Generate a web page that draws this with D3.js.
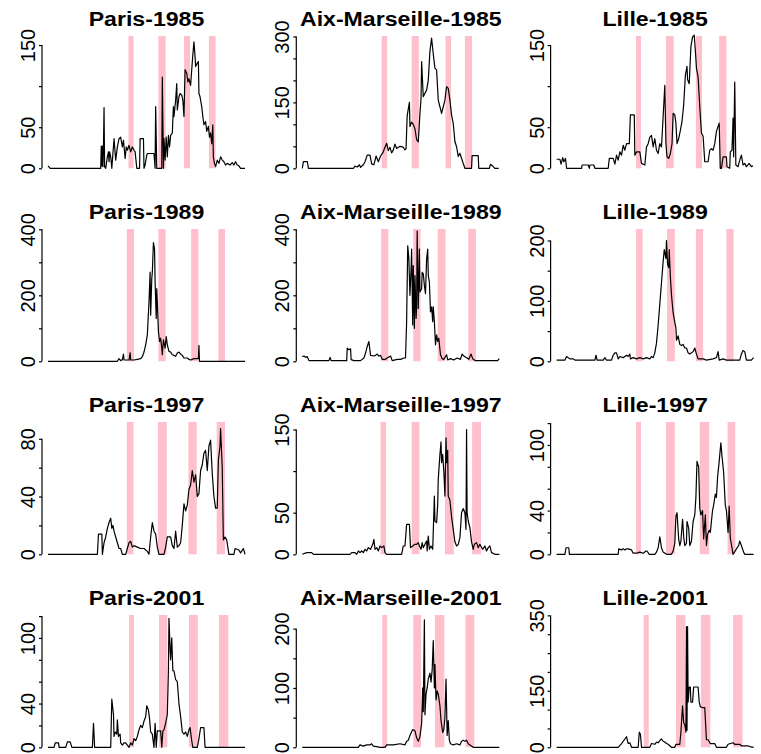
<!DOCTYPE html>
<html>
<head>
<meta charset="utf-8">
<script src="https://cdn.jsdelivr.net/npm/d3@7"></script>
<style>
  body { margin: 0; background: #fff; }
  svg { display: block; font-family: "Liberation Sans", Arial, sans-serif; }
</style>
</head>
<body>
<svg id="chart" width="761" height="754"></svg>
<script>
// ---- data ----
const cities = ["Paris", "Aix-Marseille", "Lille"];
const years = ["1985", "1989", "1997", "2001"];
const dayDomain = [0, 355];

// [day of season, weekly incidence]
const paris1985 = [[0,3],[4,0],[95,0],[96,27],[97,3],[98,27],[99,2],[100,27],[101,74],[102,2],[104,0],[107,14],[109,20],[110,8],[111,20],[113,14],[115,0],[119,36],[122,10],[125,26],[128,36],[131,38],[134,26],[136,34],[139,12],[141,26],[143,22],[146,28],[149,20],[152,26],[155,22],[157,20],[160,0],[165,0],[166,36],[172,36],[173,0],[175,4],[178,16],[179,18],[191,18],[193,0],[194,75],[196,0],[205,0],[206,111],[208,0],[209,36],[211,10],[213,38],[215,14],[217,40],[219,26],[221,40],[224,43],[226,75],[227,63],[230,83],[232,103],[233,71],[236,87],[238,91],[241,89],[243,83],[245,63],[247,120],[250,116],[252,105],[254,109],[257,101],[259,120],[261,138],[263,154],[265,136],[266,124],[269,128],[271,130],[272,91],[274,87],[277,75],[279,63],[281,53],[284,57],[286,45],[289,51],[291,38],[293,43],[295,30],[297,53],[298,14],[300,6],[302,2],[305,10],[308,6],[311,14],[314,10],[317,8],[320,4],[323,6],[328,4],[332,7],[335,4],[338,8],[341,4],[344,3],[347,0],[355,0]];
const aix1985 = [[0,0],[2,15],[9,15],[11,0],[92,0],[95,5],[99,3],[103,8],[105,2],[110,8],[113,15],[117,30],[122,30],[125,10],[129,8],[133,28],[137,15],[141,28],[145,35],[149,48],[152,57],[155,40],[158,48],[161,35],[164,42],[167,55],[170,45],[176,50],[182,48],[185,42],[187,45],[189,120],[193,150],[194,95],[197,105],[200,100],[203,90],[206,65],[209,60],[212,125],[214,160],[215,243],[218,163],[224,178],[227,200],[230,266],[233,296],[236,260],[239,228],[242,224],[245,155],[248,140],[251,125],[254,140],[257,155],[260,186],[263,182],[266,155],[269,121],[272,102],[275,61],[278,49],[281,27],[284,34],[287,23],[290,11],[293,0],[305,0],[306,29],[317,29],[318,0],[337,0],[339,9],[344,4],[347,0],[354,0]];
const lille1985 = [[0,11],[6,11],[8,5],[11,13],[13,8],[16,12],[18,0],[45,0],[46,4],[57,4],[59,0],[60,4],[67,4],[69,0],[93,0],[95,12],[102,12],[105,5],[108,16],[111,10],[114,20],[117,16],[120,28],[123,22],[126,30],[131,30],[133,65],[140,65],[141,16],[144,20],[150,20],[153,6],[159,4],[162,26],[165,30],[168,38],[171,40],[174,26],[177,36],[180,22],[183,18],[186,30],[189,26],[192,63],[195,101],[197,30],[199,14],[202,12],[205,18],[208,30],[210,67],[213,65],[215,55],[217,30],[220,36],[223,46],[226,57],[229,77],[232,113],[235,124],[236,108],[239,103],[242,148],[245,160],[248,162],[250,144],[252,122],[255,111],[258,75],[261,43],[264,39],[267,8],[273,8],[276,22],[279,24],[282,22],[285,30],[288,45],[293,55],[295,0],[297,0],[300,14],[306,14],[307,2],[312,0],[313,20],[316,22],[318,61],[319,14],[321,105],[323,4],[327,2],[330,10],[333,16],[336,4],[339,6],[342,2],[347,6],[351,2],[354,3]];

const paris1989 = [[0,0],[125,0],[128,8],[131,2],[134,5],[136,22],[137,4],[146,4],[148,26],[149,4],[155,4],[161,6],[167,8],[170,14],[173,28],[176,50],[179,80],[182,180],[184,270],[185,140],[187,250],[188,270],[190,360],[192,340],[193,240],[195,130],[196,220],[197,180],[199,90],[201,60],[203,70],[205,40],[206,20],[208,65],[211,40],[213,75],[215,50],[218,30],[221,28],[224,20],[227,18],[230,15],[233,25],[236,28],[239,22],[242,18],[245,10],[251,10],[254,6],[257,4],[263,8],[271,8],[272,48],[273,0],[355,0]];
const aix1989 = [[0,14],[3,16],[6,12],[9,14],[12,2],[48,2],[50,12],[52,2],[80,2],[81,40],[84,35],[87,38],[88,5],[93,2],[105,2],[111,10],[114,25],[117,45],[120,60],[123,18],[129,16],[132,18],[135,22],[138,16],[141,18],[144,6],[150,6],[153,10],[159,16],[162,2],[171,6],[177,6],[183,10],[186,10],[188,120],[190,350],[192,310],[194,200],[196,280],[197,340],[199,110],[200,290],[202,100],[203,260],[205,130],[206,160],[207,395],[209,160],[211,340],[212,210],[215,220],[216,270],[218,265],[220,230],[222,205],[224,310],[226,340],[227,260],[229,240],[231,150],[233,165],[235,120],[236,165],[238,120],[240,50],[242,80],[244,60],[246,70],[249,20],[252,8],[255,6],[260,20],[262,4],[267,8],[273,4],[279,10],[285,6],[288,22],[291,16],[297,10],[300,6],[304,22],[307,8],[312,2],[352,2],[355,8]];
const lille1989 = [[0,2],[15,2],[18,8],[21,6],[24,4],[30,4],[33,2],[69,2],[71,10],[73,2],[84,2],[87,6],[90,2],[99,2],[102,10],[105,14],[108,14],[111,4],[114,8],[120,6],[126,10],[129,8],[132,12],[133,4],[138,6],[144,4],[150,6],[156,4],[162,6],[168,4],[171,8],[174,6],[177,14],[180,30],[183,60],[186,95],[189,130],[192,165],[194,185],[197,170],[198,200],[200,160],[202,155],[203,185],[205,140],[207,110],[210,80],[213,65],[215,55],[216,35],[219,42],[222,28],[225,26],[228,28],[231,22],[234,22],[237,14],[240,12],[246,16],[249,22],[252,12],[255,4],[264,4],[270,2],[282,4],[288,6],[291,16],[293,2],[300,4],[306,2],[330,2],[333,12],[336,18],[339,16],[342,2],[351,2],[355,6]];

const paris1997 = [[0,0],[89,0],[91,14],[97,14],[98,0],[101,8],[104,12],[107,18],[110,22],[113,25],[115,18],[117,20],[119,16],[122,12],[125,8],[128,4],[131,4],[134,0],[140,0],[143,4],[146,8],[149,9],[152,5],[155,6],[161,5],[167,4],[173,4],[179,2],[182,0],[185,12],[188,22],[191,16],[194,14],[197,5],[200,0],[209,0],[212,5],[215,12],[221,12],[224,6],[227,4],[230,16],[233,5],[236,6],[239,8],[242,20],[245,35],[248,30],[251,34],[254,45],[257,48],[260,58],[263,50],[266,55],[269,40],[272,42],[275,58],[278,62],[281,70],[284,72],[287,58],[290,75],[293,79],[296,56],[299,40],[302,32],[305,32],[307,65],[310,75],[311,87],[314,60],[316,10],[319,12],[322,10],[326,0],[335,0],[337,4],[344,3],[347,1],[352,4],[355,0]];
const aix1997 = [[0,0],[8,2],[17,2],[20,0],[86,0],[89,2],[95,2],[98,0],[101,4],[104,2],[107,4],[110,2],[113,6],[116,4],[119,8],[123,6],[127,12],[129,18],[131,6],[134,8],[137,4],[140,10],[143,8],[147,10],[149,2],[152,0],[179,0],[182,10],[185,10],[188,36],[193,36],[195,8],[199,10],[203,12],[206,12],[209,14],[211,10],[214,6],[216,14],[218,8],[221,12],[224,16],[225,4],[227,22],[229,6],[232,10],[235,6],[238,70],[239,40],[242,38],[244,60],[245,90],[248,120],[250,135],[251,110],[253,120],[255,100],[257,70],[259,140],[260,110],[262,125],[263,70],[266,65],[269,45],[272,30],[275,15],[278,10],[281,12],[284,20],[287,50],[290,55],[293,50],[295,30],[296,150],[297,50],[299,40],[302,32],[305,15],[308,6],[310,12],[314,14],[317,8],[320,12],[325,6],[329,10],[332,4],[335,8],[338,10],[341,2],[347,0],[355,0]];
const lille1997 = [[0,0],[15,0],[17,6],[22,6],[23,0],[111,0],[112,5],[117,4],[120,5],[123,4],[126,5],[129,5],[135,4],[138,1],[144,1],[150,2],[156,1],[161,3],[163,3],[167,0],[177,0],[180,2],[183,6],[186,16],[189,6],[192,2],[198,0],[207,0],[210,3],[213,10],[215,35],[217,38],[220,14],[222,8],[224,12],[227,32],[229,16],[231,8],[234,10],[235,30],[238,24],[240,8],[243,12],[246,30],[249,36],[251,52],[253,85],[256,80],[258,42],[260,36],[263,40],[265,14],[268,36],[270,8],[272,18],[275,22],[277,20],[281,40],[283,45],[286,55],[288,52],[290,70],[293,85],[296,102],[298,90],[301,75],[304,45],[306,40],[309,20],[311,44],[313,15],[316,6],[318,0],[323,4],[328,8],[330,12],[333,8],[337,2],[339,0],[355,0]];

const paris2001 = [[0,0],[11,0],[13,4],[19,4],[20,0],[32,0],[35,5],[40,5],[43,0],[80,0],[82,22],[84,0],[113,0],[115,44],[118,30],[119,10],[121,14],[124,12],[125,25],[127,10],[130,12],[131,4],[134,2],[137,4],[140,4],[143,2],[146,0],[149,4],[152,2],[155,8],[158,6],[161,10],[164,16],[167,20],[170,18],[173,24],[176,28],[178,38],[181,34],[183,26],[185,14],[188,12],[191,0],[193,22],[195,0],[197,15],[203,15],[205,0],[207,15],[209,16],[212,22],[215,30],[217,70],[218,118],[220,90],[221,80],[223,100],[225,70],[227,70],[230,62],[233,60],[236,40],[239,28],[242,14],[245,12],[248,14],[251,10],[254,16],[256,18],[259,6],[261,0],[269,0],[272,8],[275,18],[281,18],[283,0],[355,0]];
const aix2001 = [[0,0],[101,0],[104,4],[110,2],[116,4],[122,4],[125,6],[128,2],[134,1],[140,0],[149,0],[152,4],[164,4],[176,6],[185,4],[188,10],[191,12],[194,20],[199,30],[203,28],[206,16],[209,10],[212,18],[215,40],[217,100],[218,60],[220,215],[221,55],[223,90],[225,100],[227,115],[230,125],[232,110],[234,130],[236,180],[238,100],[239,140],[241,80],[243,95],[245,90],[248,70],[250,45],[253,25],[255,30],[257,50],[259,115],[261,20],[263,45],[265,12],[267,6],[272,4],[278,6],[284,4],[287,10],[290,12],[293,10],[296,12],[299,6],[302,4],[308,0],[355,0]];
const lille2001 = [[0,0],[111,0],[117,10],[123,22],[126,28],[129,10],[132,12],[135,0],[147,0],[149,40],[151,35],[153,0],[168,0],[171,10],[177,8],[180,14],[183,12],[186,18],[189,22],[192,16],[195,14],[198,10],[201,8],[204,4],[207,0],[213,0],[215,8],[222,8],[224,40],[227,110],[229,65],[231,60],[233,40],[234,320],[235,45],[236,320],[237,120],[239,160],[241,160],[242,120],[245,120],[247,160],[251,160],[255,160],[257,120],[259,108],[263,105],[267,105],[270,20],[273,20],[277,10],[285,10],[288,0],[306,0],[309,8],[318,12],[321,8],[330,8],[333,4],[345,4],[348,2],[355,0]];

// school holidays [start day, end day]
const holParis1985 = [[145,154],[199,212],[245,256],[290,302]];
const holAix1985   = [[143,153],[197,210],[258,268],[293,306]];
const holLille1985 = [[143,152],[197,211],[251,262],[293,306]];
const holParis1989 = [[142,155],[199,212],[258,271],[307,319]];
const holAix1989   = [[142,155],[200,213],[244,258],[299,313]];
const holLille1989 = [[143,155],[199,213],[251,264],[306,319]];
const holParis1997 = [[142,154],[198,214],[253,268],[304,319]];
const holAix1997   = [[141,151],[197,211],[257,273],[306,322]];
const holLille1997 = [[143,152],[197,213],[258,275],[308,322]];
const holParis2001 = [[146,155],[200,215],[254,270],[308,325]];
const holAix2001   = [[144,153],[200,214],[239,256],[294,310]];
const holLille2001 = [[157,166],[215,232],[260,277],[318,335]];

// y-axis: upper limit, tick values, labelled ticks (row by row)
const yTops = [161, 301, 161, 401, 401, 219, 91.6, 159, 121, 121, 223, 351];
const yTicks = [
  [0,50,100,150], [0,50,100,150,200,250,300], [0,50,100,150],
  [0,100,200,300,400], [0,100,200,300,400], [0,50,100,150,200],
  [0,20,40,60,80], [0,50,100,150], [0,20,40,60,80,100,120],
  [0,20,40,60,80,100,120], [0,50,100,150,200], [0,50,100,150,200,250,300,350]
];
const yLabels = [
  [0,50,150], [0,150,300], [0,50,150],
  [0,200,400], [0,200,400], [0,100,200],
  [0,40,80], [0,50,150], [0,40,100],
  [0,40,100], [0,100,200], [0,150,350]
];

const seriesList = [paris1985, aix1985, lille1985, paris1989, aix1989, lille1989,
                    paris1997, aix1997, lille1997, paris2001, aix2001, lille2001];
const holidayList = [holParis1985, holAix1985, holLille1985, holParis1989, holAix1989, holLille1989,
                     holParis1997, holAix1997, holLille1997, holParis2001, holAix2001, holLille2001];

// ---- layout ----
const svg = d3.select("#chart");
const colX0 = 42, colStep = 254.3;
const rowY0 = 36, rowStep = 193, plotH = 132.3;

years.forEach(function (year, r) {
  cities.forEach(function (city, c) {
    const i = r * 3 + c;
    const axisX = colX0 + colStep * c;
    const top = rowY0 + rowStep * r;
    const zero = top + plotH;

    const x = d3.scaleLinear().domain(dayDomain).range([axisX + 6, axisX + 203]);
    const y = d3.scaleLinear().domain([0, yTops[i]]).range([zero, top]);

    const g = svg.append("g").attr("class", "panel");

    g.selectAll("rect.hol").data(holidayList[i]).enter().append("rect")
      .attr("class", "hol")
      .attr("x", function (d) { return x(d[0]); })
      .attr("width", function (d) { return x(d[1]) - x(d[0]); })
      .attr("y", top)
      .attr("height", zero - top)
      .attr("fill", "#ffc0cb");

    const line = d3.line()
      .x(function (d) { return x(d[0]); })
      .y(function (d) { return y(d[1]); });

    g.append("path")
      .datum(seriesList[i])
      .attr("d", line)
      .attr("fill", "none")
      .attr("stroke", "#000")
      .attr("stroke-width", 1.2)
      .attr("stroke-linejoin", "round");

    const ticks = yTicks[i], labels = yLabels[i];
    const axis = d3.axisLeft(y)
      .tickValues(ticks)
      .tickSize(3)
      .tickSizeOuter(0)
      .tickFormat(function (d) { return labels.indexOf(d) >= 0 ? d : ""; });

    const ax = g.append("g").attr("transform", "translate(" + axisX + ",0)").call(axis);
    ax.select(".domain").remove();
    ax.append("line")
      .attr("x1", 0).attr("x2", 0)
      .attr("y1", y(ticks[0])).attr("y2", y(ticks[ticks.length - 1]))
      .attr("stroke", "#000").attr("stroke-width", 1.2);
    ax.selectAll(".tick line").attr("stroke", "#000").attr("stroke-width", 1.2);
    ax.selectAll(".tick text")
      .attr("x", null).attr("dy", null)
      .attr("transform", "translate(-7,0) rotate(-90)")
      .attr("text-anchor", "middle")
      .attr("fill", "#000")
      .style("font-size", "20px")
      .style("font-family", "'Liberation Sans', Arial, sans-serif");

    // title: the original's bold face runs wider than Liberation Sans Bold
    const title = g.append("text")
      .attr("x", axisX + 104.5)
      .attr("y", top - 10)
      .attr("text-anchor", "middle")
      .style("font-size", "20px")
      .style("font-weight", "bold")
      .text(city + "-" + year);
    const w = title.node().getComputedTextLength();
    title.attr("textLength", w * 1.155).attr("lengthAdjust", "spacingAndGlyphs");
  });
});
</script>
</body>
</html>
